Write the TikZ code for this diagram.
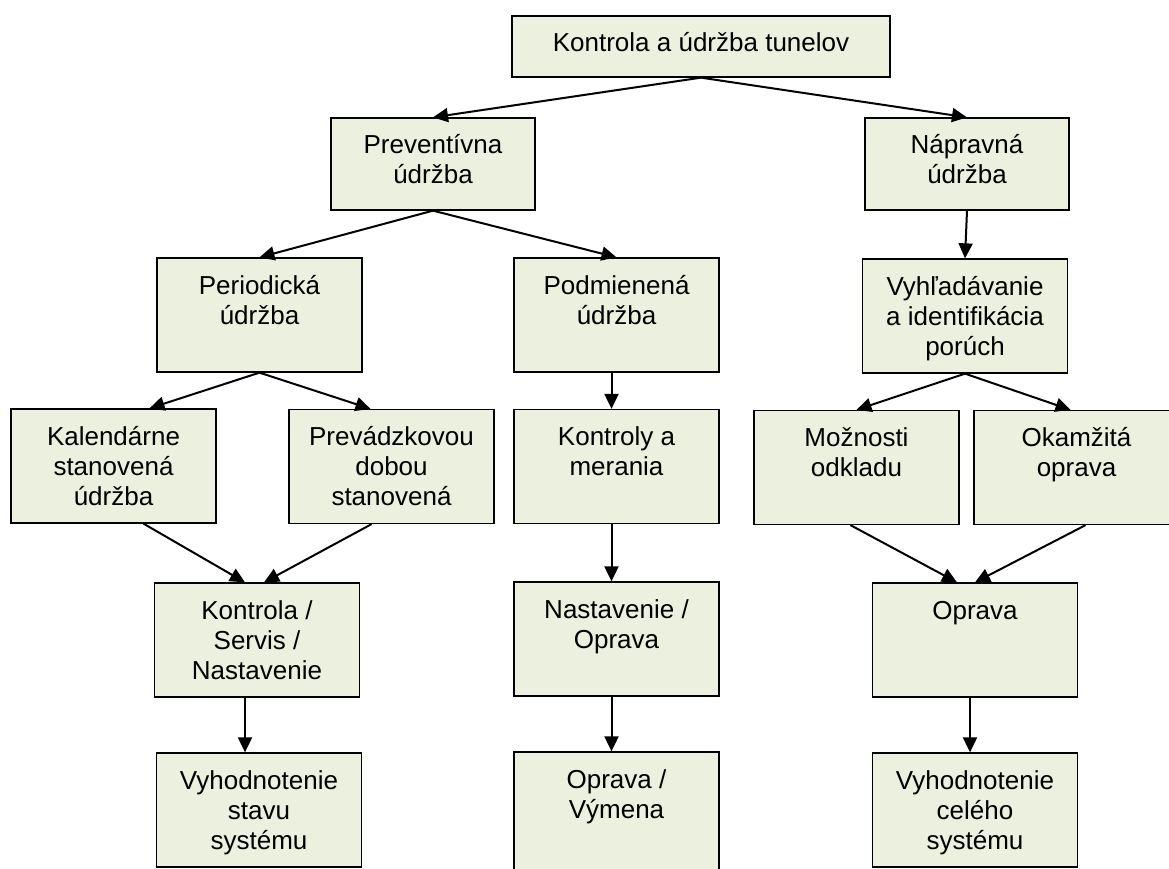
\documentclass[tikz,border=0pt]{standalone}
\usepackage{fontspec}
\setmainfont{Liberation Sans}
\usepackage{xcolor}
\usetikzlibrary{arrows.meta, positioning}
\definecolor{cellfill}{HTML}{EBF1DE}
\newcommand{\celltext}[3]{\parbox[c][#2pt][t]{#1pt}{\centering\fontsize{26}{30}\selectfont\vspace*{15pt}\strut#3}}

\begin{document}
\begin{tikzpicture}[x=1pt, y=-1pt,
  cell/.style={draw=black, fill=cellfill, line width=1.3pt, inner sep=0pt},
  arr/.style={-{Triangle[length=15pt, width=14pt]}, line width=2pt},
]
\useasboundingbox (0,0) rectangle (1169,869);

\node[cell] (top) at (701,46.5) {\celltext{378}{61}{Kontrola a údržba tunelov}};

% second level
\node[cell] (prev) at (433,164) {\celltext{204}{92}{Preventívna\\údržba}};
\node[cell] (napr) at (967,164) {\celltext{204}{92}{Nápravná\\údržba}};

% third level
\node[cell] (peri) at (259.5,315) {\celltext{205}{114}{Periodická\\údržba}};
\node[cell] (podm) at (616.5,315) {\celltext{205}{114}{Podmienená\\údržba}};
\node[cell] (vyhl) at (965,316) {\celltext{205}{114}{Vyhľadávanie\\a identifikácia\\porúch}};

% fourth level
\node[cell] (kal) at (113.5,466) {\celltext{205}{114}{Kalendárne\\stanovená\\údržba}};
\node[cell] (prevad) at (391.5,466.5) {\celltext{205}{114}{Prevádzkovou\\dobou\\stanovená}};
\node[cell] (kontr) at (616.5,466.5) {\celltext{205}{114}{Kontroly a\\merania}};
\node[cell] (moz) at (856.5,467.5) {\celltext{205}{114}{Možnosti\\odkladu}};
\node[cell] (okam) at (1076.5,467.5) {\celltext{205}{114}{Okamžitá\\oprava}};

% fifth level
\node[cell] (kss) at (257,640) {\celltext{205}{114}{Kontrola /\\Servis /\\Nastavenie}};
\node[cell] (nast) at (616.5,639) {\celltext{205}{114}{Nastavenie /\\Oprava}};
\node[cell] (opr) at (975,640) {\celltext{205}{114}{Oprava}};

% bottom level
\node[cell] (vst) at (259,810) {\celltext{205}{114}{Vyhodnotenie\\stavu\\systému}};
\node[cell] (ovym) at (616.5,816) {\celltext{205}{128}{Oprava /\\Výmena}};
\node[cell] (vcs) at (975,810) {\celltext{205}{114}{Vyhodnotenie\\celého\\systému}};

\foreach \i/\j in {top/prev, top/napr, prev/peri, prev/podm, napr/vyhl, vyhl/moz}
  \draw[arr] (\i.south) -- (\j.north);

\foreach \i/\j in {podm/kontr, kontr/nast, nast/ovym, opr/vcs}
  \draw[arr] ([xshift=-5]\i.south) -- ([xshift=-5]\j.north);

\draw[arr] (peri.south) -- ([xshift=36]kal.north);
\draw[arr] (peri.south) -- ([xshift=-21]prevad.north);
\draw[arr] (vyhl.south) -- ([xshift=-6]okam.north);
\draw[arr] ([xshift=30]kal.south) -- ([xshift=-12]kss.north);
\draw[arr] ([xshift=-20]prevad.south) -- ([xshift=7]kss.north);
\draw[arr] ([xshift=-12]kss.south) -- ([xshift=-14]vst.north);
\draw[arr] ([xshift=-6]moz.south) -- ([xshift=-18]opr.north);
\draw[arr] ([xshift=9]okam.south) -- (opr.north);

\end{tikzpicture}
\end{document}
